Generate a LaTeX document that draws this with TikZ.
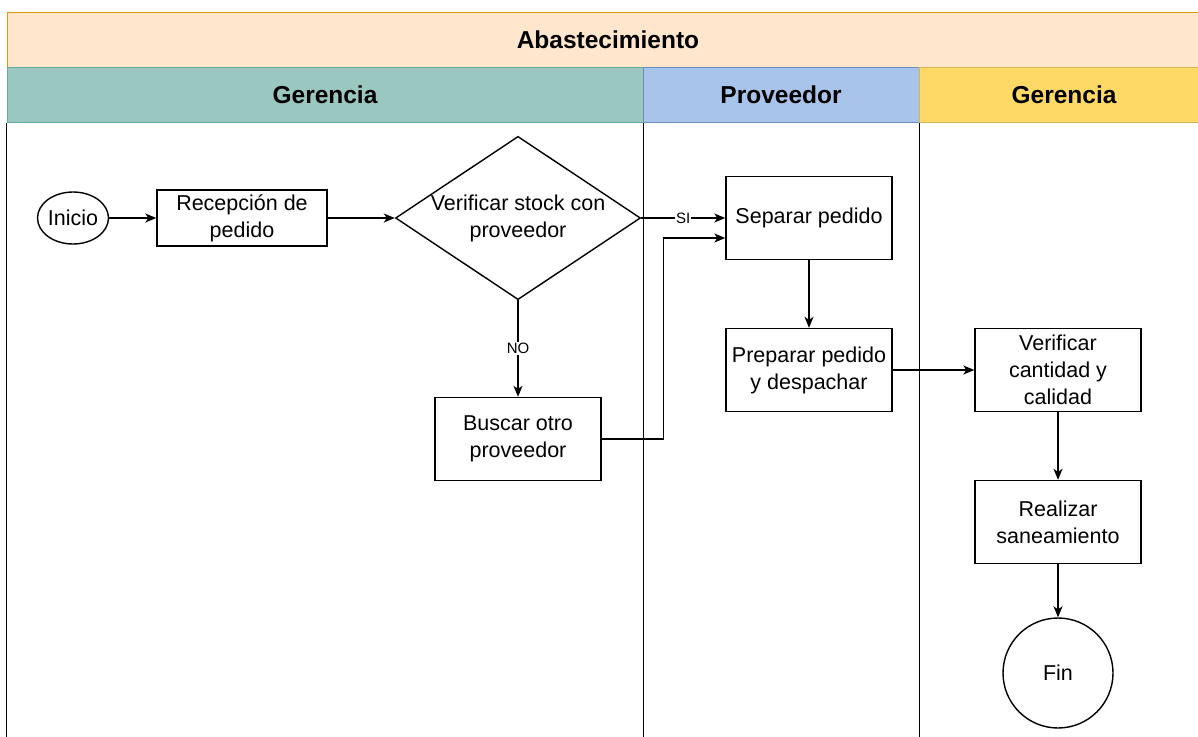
\documentclass[tikz,border=0pt]{standalone}
\usepackage{fontspec}
\setmainfont{Liberation Sans}
\usepackage{tikz}
\usetikzlibrary{shapes,arrows,arrows.meta}
\definecolor{poolfill}{HTML}{FFE6CC}
\definecolor{pooldraw}{HTML}{D79B00}
\definecolor{gerfill}{HTML}{9AC7BF}
\definecolor{gerdraw}{HTML}{67AB9F}
\definecolor{provfill}{HTML}{A9C4EB}
\definecolor{provdraw}{HTML}{6C8EBF}
\definecolor{ger2fill}{HTML}{FFD966}
\definecolor{ger2draw}{HTML}{D6B656}
\newcommand{\bodyfont}{\fontsize{21.5}{27}\selectfont}
\newcommand{\headfont}{\fontsize{24.5}{29}\selectfont\bfseries}
\tikzstyle{decision} = [diamond, draw, line width=1.4pt, aspect=1.5,
    align=center, inner sep=0pt, font=\bodyfont]
\tikzstyle{block} = [rectangle, draw, line width=1.4pt, align=center,
    minimum width=166pt, minimum height=83pt, font=\bodyfont]
\tikzstyle{terminal} = [ellipse, draw, line width=1.4pt, inner sep=0pt,
    minimum width=68pt, minimum height=52pt, font=\bodyfont]
\tikzstyle{header} = [rectangle, draw, line width=1pt, minimum height=55pt,
    font=\headfont]
\tikzstyle{lbl} = [fill=white, inner sep=1pt, font=\fontsize{15}{18}\selectfont]
\tikzstyle{line} = [draw, line width=1.4pt,
    -{Stealth[length=11pt, width=9pt, inset=3pt]}]
\tikzstyle{lane} = [draw, line width=1.4pt]

\begin{document}
\begin{tikzpicture}[x=1pt, y=-1pt]
      \useasboundingbox (0,0) rectangle (1198,736);
      % pool and lanes
      \node [header, fill=poolfill, draw=pooldraw, minimum width=1202pt] (pool)
         at (608,39.5) {Abastecimiento};
      \node [header, fill=gerfill, draw=gerdraw, minimum width=636pt] (gerencia)
         at (325,94.5) {Gerencia};
      \node [header, fill=provfill, draw=provdraw, minimum width=276pt] (proveedor)
         at (781,94.5) {Proveedor};
      \node [header, fill=ger2fill, draw=ger2draw, minimum width=290pt] (gerencia2)
         at (1064,94.5) {Gerencia};
      \path [lane] (gerencia.south west) -- ++(0,620);
      \path [lane] (gerencia.south east) -- ++(0,620);
      \path [lane] (proveedor.south east) -- ++(0,620);

      % steps
      \node [terminal] (inicio) at (73,218) {Inicio};
      \node [block, right of=inicio, node distance=169pt, minimum width=170pt,
         minimum height=56pt] (recepcion) {Recepción de\\pedido};
      \node [decision, right of=recepcion, node distance=276pt] (stock)
         {Verificar stock con\\proveedor};
      \node [block, below of=stock, node distance=221pt] (buscar)
         {Buscar otro\\proveedor};
      \node [block, right of=stock, node distance=291pt] (separar)
         {Separar pedido};
      \node [block, below of=separar, node distance=152pt] (preparar)
         {Preparar pedido\\y despachar};
      \node [block, right of=preparar, node distance=249pt] (verificar)
         {Verificar\\cantidad y\\calidad};
      \node [block, below of=verificar, node distance=152pt] (sanear)
         {Realizar\\saneamiento};
      \node [terminal, circle, minimum size=110pt, below of=sanear,
         node distance=151pt] (fin) {Fin};

      \path [line] (inicio) -- (recepcion);
      \path [line] (recepcion) -- (stock);
      \path [line] (stock) -- node [lbl] {SI} (separar);
      \path [line] (stock) -- node [lbl] {NO} (buscar);
      \path [line] (buscar.east) -- ++(62,0) |- ([yshift=-20pt]separar.west);
      \path [line] (separar) -- (preparar);
      \path [line] (preparar) -- (verificar);
      \path [line] (verificar) -- (sanear);
      \path [line] (sanear) -- (fin);
   \end{tikzpicture}
\end{document}
